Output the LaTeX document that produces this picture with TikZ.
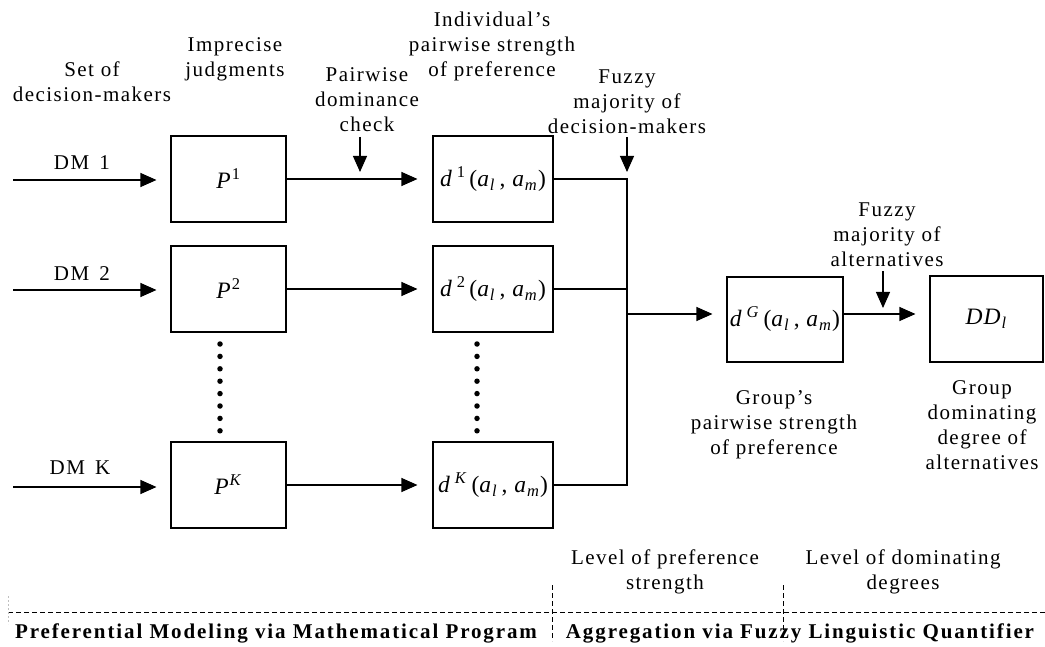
\documentclass[tikz,border=0pt]{standalone}
\usepackage{fontspec}
\setmainfont{Liberation Serif}[LetterSpace=7]
\newfontfamily\widebold{Liberation Serif}[LetterSpace=9]
\newfontfamily\boxfont{Liberation Serif}[LetterSpace=4]
\usetikzlibrary{arrows.meta}
\begin{document}
\begin{tikzpicture}[x=1pt,y=-1pt,
  box/.style={draw, line width=1.1pt, inner sep=0pt},
  pbox/.style={box, minimum width=115pt, minimum height=86pt},
  dbox/.style={box, minimum width=120pt, minimum height=86pt},
  lbl/.style={align=center, inner sep=0pt, font=\fontsize{21}{25}\selectfont},
  btxt/.style={inner sep=0pt, font=\fontsize{21}{25}\selectfont\widebold\bfseries},
  mtxt/.style={font=\fontsize{23.5}{24}\selectfont\boxfont},
  conn/.style={line width=1.1pt},
  arr/.style={conn, -{Triangle[length=16pt,width=14pt]}},
  dot/.style={fill=black, circle, inner sep=0pt, minimum size=5.5pt},
  sep/.style={line width=0.8pt, dash pattern=on 5pt off 3pt}
]
\useasboundingbox (0,0) rectangle (1045,647);

% input coordinates
\coordinate (in1) at (13,180);
\coordinate (in2) at (13,290);
\coordinate (inK) at (13,487);

% boxes
\node[pbox, mtxt] (P1) at (228.5,179) {\textit{P}\textsuperscript{1}};
\node[pbox, mtxt] (P2) at (228.5,289) {\textit{P}\textsuperscript{2}};
\node[pbox, mtxt] (PK) at (228.5,485) {\textit{P}\textsuperscript{\textit{K}}};
\node[dbox, mtxt] (d1) at (493,179) {\textit{d}\,\textsuperscript{1}\,(\textit{a}\textsubscript{\textit{l}}\,, \textit{a}\textsubscript{\textit{m}})};
\node[dbox, mtxt] (d2) at (493,289) {\textit{d}\,\textsuperscript{2}\,(\textit{a}\textsubscript{\textit{l}}\,, \textit{a}\textsubscript{\textit{m}})};
\node[dbox, mtxt] (dK) at (493,485) {\textit{d}\,\textsuperscript{\textit{K}}\,(\textit{a}\textsubscript{\textit{l}}\,, \textit{a}\textsubscript{\textit{m}})};
\node[box, minimum width=116pt, minimum height=85pt, mtxt] (dG) at (785,319.5) {\textit{d}\,\textsuperscript{\textit{G}}\,(\textit{a}\textsubscript{\textit{l}}\,, \textit{a}\textsubscript{\textit{m}})};
\node[box, minimum width=113pt, minimum height=86pt, mtxt] (DD) at (986.5,319) {\textit{DD}\textsubscript{\textit{l}}};

% DM labels
\node[lbl] (dm1) at (82,163) {DM\, 1};
\node[lbl] (dm2) at (82,274) {DM\, 2};
\node[lbl] (dmK) at (80,468) {DM\, K};

% input arrows
\draw[arr, shorten >=14pt] (in1) -- (P1.west |- in1);
\draw[arr, shorten >=14pt] (in2) -- (P2.west |- in2);
\draw[arr, shorten >=14pt] (inK) -- (PK.west |- inK);

% P -> d arrows
\draw[arr, shorten >=15pt] (P1.east) -- (d1.west);
\draw[arr, shorten >=15pt] (P2.east) -- (d2.west);
\draw[arr, shorten >=15pt] (PK.east) -- (dK.west);

% bus
\coordinate (b1) at (627,179);
\coordinate (b2) at (627,289);
\coordinate (bK) at (627,485);
\coordinate (bm) at (627,314);
\draw[conn] (d1.east) -- (b1) -- (bK) -- (dK.east);
\draw[conn] (d2.east) -- (b2);
\draw[arr, shorten >=14pt] (bm) -- (bm -| dG.west);

% dG -> DD
\coordinate (gm) at (843,314);
\draw[arr, shorten >=14pt] (gm) -- (gm -| DD.west);

% down arrows
\coordinate (pd1) at (360,137);
\coordinate (pd2) at (360,172);
\draw[arr] (pd1) -- (pd2);
\coordinate (fd1) at (627,137);
\coordinate (fd2) at (627,172);
\draw[arr] (fd1) -- (fd2);
\coordinate (fa1) at (883,271);
\coordinate (fa2) at (883,308);
\draw[arr] (fa1) -- (fa2);

% dots
\foreach \i in {0,...,7} {
  \node[dot] (pdot\i) at (220,344+12.4*\i) {};
  \node[dot] (ddot\i) at (477,344+12.4*\i) {};
}

% labels
\node[lbl] (t1) at (92,82) {Set of\\decision-makers};
\node[lbl] (t2) at (235,59) {Imprecise\\judgments};
\node[lbl] (t3) at (367,100) {Pairwise\\dominance\\check};
\node[lbl] (t4) at (492,46) {Individual's\\pairwise strength\\of preference};
\node[lbl] (t5) at (627,102) {Fuzzy\\majority of\\decision-makers};
\node[lbl] (t6) at (887,235) {Fuzzy\\majority of\\alternatives};
\node[lbl] (t7) at (774,425) {Group's\\pairwise strength\\of preference};
\node[lbl] (t8) at (982,425) {Group\\dominating\\degree of\\alternatives};
\node[lbl] (t9) at (665,572) {Level of preference\\strength};
\node[lbl] (t10) at (903,572) {Level of dominating\\degrees};

% bottom separators
\coordinate (hl) at (8,612);
\coordinate (hr) at (1045,612);
\draw[sep] (hl) -- (hr);
\coordinate (v1t) at (552,585);
\coordinate (v1b) at (552,641);
\coordinate (v2t) at (783,585);
\coordinate (v2b) at (783,641);
\draw[sep] (v1t) -- (v1b);
\draw[sep] (v2t) -- (v2b);
\coordinate (v0t) at (8,596);
\coordinate (v0b) at (8,624);
\draw[line width=0.5pt, black!25, dash pattern=on 2pt off 2pt] (v0t) -- (v0b);

\node[btxt] (b1t) at (276,633) {Preferential Modeling via Mathematical Program};
\node[btxt] (b2t) at (800,633) {Aggregation via Fuzzy Linguistic Quantifier};
\end{tikzpicture}
\end{document}
